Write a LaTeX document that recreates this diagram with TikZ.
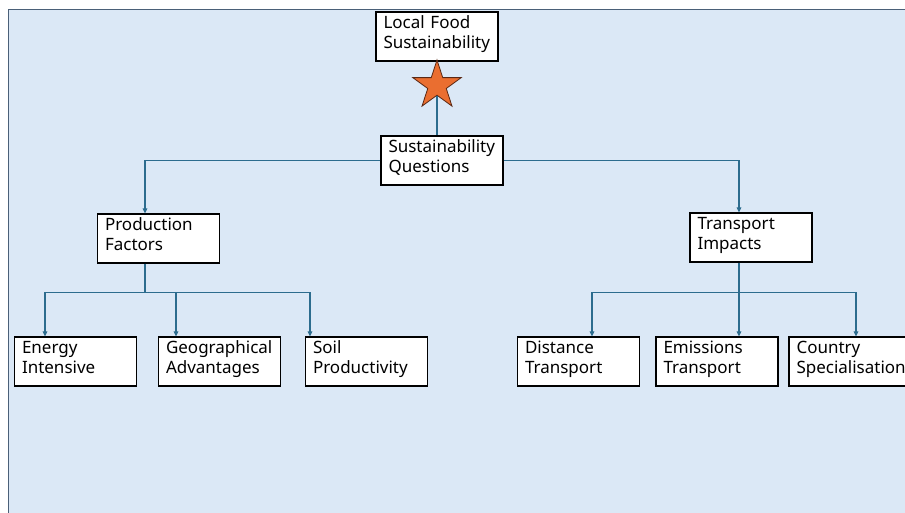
\documentclass[tikz,border=0pt]{standalone}
\usepackage{fontspec}
\setmainfont{Noto Sans}
\usetikzlibrary{arrows.meta,positioning,shapes.geometric}
\definecolor{bgBlue}  {RGB}{219,232,246}
\definecolor{bgEdge}  {RGB}{ 74, 96,120}
\definecolor{lnTeal}  {RGB}{ 44,108,142}
\definecolor{starOr}  {RGB}{234,110, 48}
\definecolor{starEdge}{RGB}{ 90, 40, 20}

\begin{document}
\begin{tikzpicture}[x=1pt,y=1pt,
    every node/.style={font=\fontsize{17}{20}\selectfont},
    box/.style={rectangle,draw=black,line width=1.1pt,fill=white,
                text width=107pt,inner xsep=7.5pt,inner ysep=2pt,
                text height=15pt,text depth=30pt,align=left},
    link/.style={lnTeal,line width=1.1pt},
    arr/.style={link,-{Triangle[length=5pt,width=4.5pt]}}
  ]
  \useasboundingbox (0,0) rectangle (905,513);
  % Background panel
  \fill[bgBlue] (8,0) rectangle (910,503);
  \draw[bgEdge,line width=1pt] (8,0) -- (8,503) -- (910,503);
  % Top: goal and questions
  \node[box] (goal) at (437,476.5) {Local Food\\Sustainability};
  \node[star,star points=5,star point ratio=2.618,minimum size=51pt,
        inner sep=0pt,fill=starOr,draw=starEdge,line width=0.8pt]
        (mark) at (437,427.5) {};
  \node[box] (quest) at (442,352.5) {Sustainability\\Questions};
  % Middle row
  \node[box] (prod) at (158.5,274.5) {Production\\Factors};
  \node[box] (trans) at (751,275.5) {Transport\\Impacts};
  % Bottom row: production side
  \node[box] (energy) at (75.5,151.5) {Energy\\Intensive};
  \node[box] (geo) at (219.5,151.5) {Geographical\\Advantages};
  \node[box] (soil) at (366.5,151.5) {Soil\\Productivity};
  % Bottom row: transport side
  \node[box] (dist) at (578.5,151.5) {Distance\\Transport};
  \node[box] (emis) at (717,151.5) {Emissions\\Transport};
  \node[box] (country) at (850,151.5) {Country\\Specialisation};
  % Junctions
  \coordinate (prodJ) at ([xshift=-13.5pt,yshift=-29pt]prod.south);
  \coordinate (transJ) at ([xshift=-12pt,yshift=-30pt]trans.south);
  % Arrows
  \draw[link] (mark) -- ([xshift=-5pt]quest.north);
  \draw[arr] (quest.west) -| ([xshift=-13.5pt]prod.north);
  \draw[arr] (quest.east) -| ([xshift=-12pt]trans.north);
  \draw[link] ([xshift=-13.5pt]prod.south) -- (prodJ);
  \draw[arr] (prodJ) -| ([xshift=-30.5pt]energy.north);
  \draw[arr] (prodJ) -- ([xshift=-43.5pt]geo.north |- prodJ)
                     -- ([xshift=-43.5pt]geo.north);
  \draw[arr] (prodJ) -| ([xshift=-56.5pt]soil.north);
  \draw[link] ([xshift=-12pt]trans.south) -- (transJ);
  \draw[arr] (transJ) -| ([xshift=13.5pt]dist.north);
  \draw[arr] (transJ) -- ([xshift=22pt]emis.north);
  \draw[arr] (transJ) -| ([xshift=6pt]country.north);
\end{tikzpicture}
\end{document}
